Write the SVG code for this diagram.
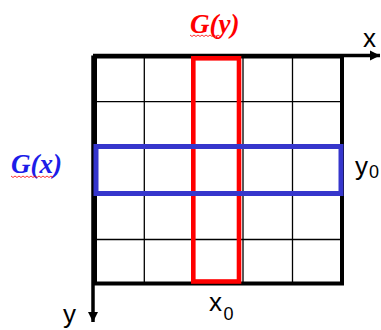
<svg xmlns="http://www.w3.org/2000/svg" width="381" height="330" viewBox="0 0 381 330">
<style>
.grid{stroke:#000;stroke-width:1.3;fill:none}
.axis{stroke:#000;stroke-width:3.5;fill:none}
.lbl{font-family:"Liberation Sans",Arial,sans-serif;fill:#000}
.g{font-family:"Liberation Serif","Times New Roman",serif;font-style:italic;font-weight:bold;font-size:27px}
.wavy{fill:none;stroke:#ff0000;stroke-width:0.8}
</style>
<defs>
<marker id="ah" viewBox="0 0 10 10" refX="10" refY="5" markerWidth="3" markerHeight="3" orient="auto" markerUnits="strokeWidth">
<path d="M0,0 L10,5 L0,10 Z" fill="#000"/>
</marker>
</defs>
<rect width="381" height="330" fill="#fff"/>
<g id="grid">
<path class="grid" d="M144.3,56 V283.5 M193.5,56 V283.5 M243,56 V283.5 M292.5,56 V283.5 M95,101.7 H342 M95,147 H342 M95,193 H342 M95,239.5 H342"/>
<rect x="95" y="56.5" width="247" height="227" fill="none" stroke="#000" stroke-width="4"/>
</g>
<g id="connectors">
<line class="axis" x1="93" y1="55.5" x2="380" y2="55.5" marker-end="url(#ah)"/>
<line class="axis" x1="93" y1="55.5" x2="93" y2="322" marker-end="url(#ah)"/>
</g>
<g id="gy-column">
<rect x="193.3" y="58.3" width="45.7" height="223.2" fill="none" stroke="#ff0000" stroke-width="4.6"/>
</g>
<g id="gx-row">
<rect x="96" y="146.5" width="245" height="47" fill="none" stroke="#3636cc" stroke-width="5"/>
</g>
<g id="labels">
<text class="lbl" x="363" y="47" font-size="26">x</text>
<text class="lbl" x="63" y="323" font-size="26">y</text>
<text class="lbl" x="209" y="310.5" font-size="26">x</text>
<text class="lbl" x="223.5" y="320" font-size="18">0</text>
<text class="lbl" x="355" y="175" font-size="26">y</text>
<text class="lbl" x="369" y="178" font-size="18">0</text>
<text class="g" x="190" y="33" fill="#ff0000">G(y)</text>
<path class="wavy" d="M190,35 l2,1.5 l2,-1.5 l2,1.5 l2,-1.5 l2,1.5 l2,-1.5 l2,1.5 l2,-1.5 l2,1.5 l2,-1.5 l2,1.5 l2,-1.5 l2,1.5 l2,-1.5 l2,1.5 l2,-1.5"/>
<text class="g" x="11" y="173" fill="#1c1ce8">G(x)</text>
<path class="wavy" d="M11,176 l2,1.5 l2,-1.5 l2,1.5 l2,-1.5 l2,1.5 l2,-1.5 l2,1.5 l2,-1.5 l2,1.5 l2,-1.5 l2,1.5 l2,-1.5 l2,1.5 l2,-1.5 l2,1.5 l2,-1.5 l2,1.5 l2,-1.5 l2,1.5 l2,-1.5 l2,1.5"/>
</g>
</svg>
